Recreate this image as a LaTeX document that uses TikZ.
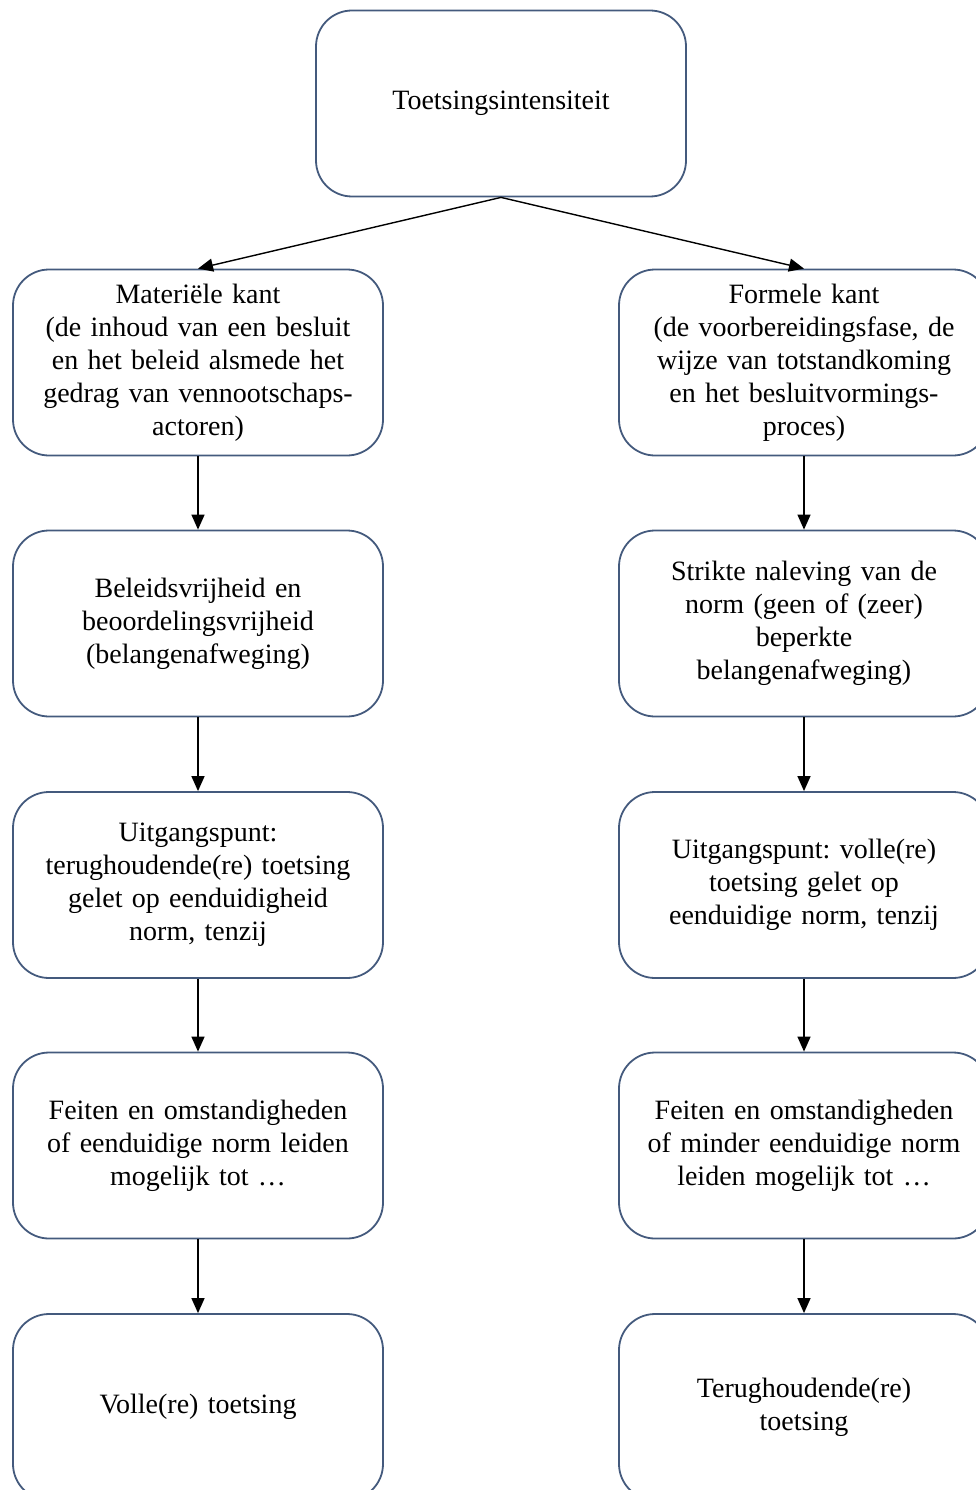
\documentclass[tikz,border=0pt]{standalone}
\usepackage{fontspec}
\setmainfont{Liberation Serif}
\usetikzlibrary{arrows.meta}
\definecolor{boxline}{RGB}{68,90,125}
\frenchspacing
\begin{document}
\begin{tikzpicture}[x=1pt,y=-1pt,
  box/.style={draw=boxline,line width=1.8pt,rounded corners=36pt,
    minimum width=370pt,minimum height=186pt,inner sep=0pt,
    align=center,text width=350pt,
    font=\fontsize{28}{33}\selectfont},
  conn/.style={draw=black,line width=1.4pt,-{Triangle[length=15pt,width=13pt]}}]
\useasboundingbox (0,0) rectangle (976,1490);
\node[box] (top) at (501,103.5) {Toetsingsintensiteit};
\node[box] (l1) at (198,362.5) {Materiële kant\\(de inhoud van een besluit\\en het beleid alsmede het\\gedrag van vennootschaps-\\actoren)};
\node[box] (r1) at (804,362.5) {Formele kant\\(de voorbereidingsfase, de\\wijze van totstandkoming\\en het besluitvormings-\\proces)};
\node[box] (l2) at (198,623.5) {Beleidsvrijheid en\\beoordelingsvrijheid\\(belangenafweging)};
\node[box] (r2) at (804,623.5) {Strikte naleving van de\\norm (geen of (zeer)\\beperkte\\belangenafweging)};
\node[box] (l3) at (198,885) {Uitgangspunt:\\terughoudende(re) toetsing\\gelet op eenduidigheid\\norm, tenzij};
\node[box] (r3) at (804,885) {Uitgangspunt: volle(re)\\toetsing gelet op\\eenduidige norm, tenzij};
\node[box] (l4) at (198,1145.5) {Feiten en omstandigheden\\of eenduidige norm leiden\\mogelijk tot …};
\node[box] (r4) at (804,1145.5) {Feiten en omstandigheden\\of minder eenduidige norm\\leiden mogelijk tot …};
\node[box] (l5) at (198,1407) {Volle(re) toetsing};
\node[box] (r5) at (804,1407) {Terughoudende(re)\\toetsing};
\draw[conn] (top.south) -- (l1.north);
\draw[conn] (top.south) -- (r1.north);
\foreach \a/\b in {l1/l2,l2/l3,l3/l4,l4/l5,r1/r2,r2/r3,r3/r4,r4/r5}
  \draw[conn] (\a.south) -- (\b.north);
\end{tikzpicture}
\end{document}
